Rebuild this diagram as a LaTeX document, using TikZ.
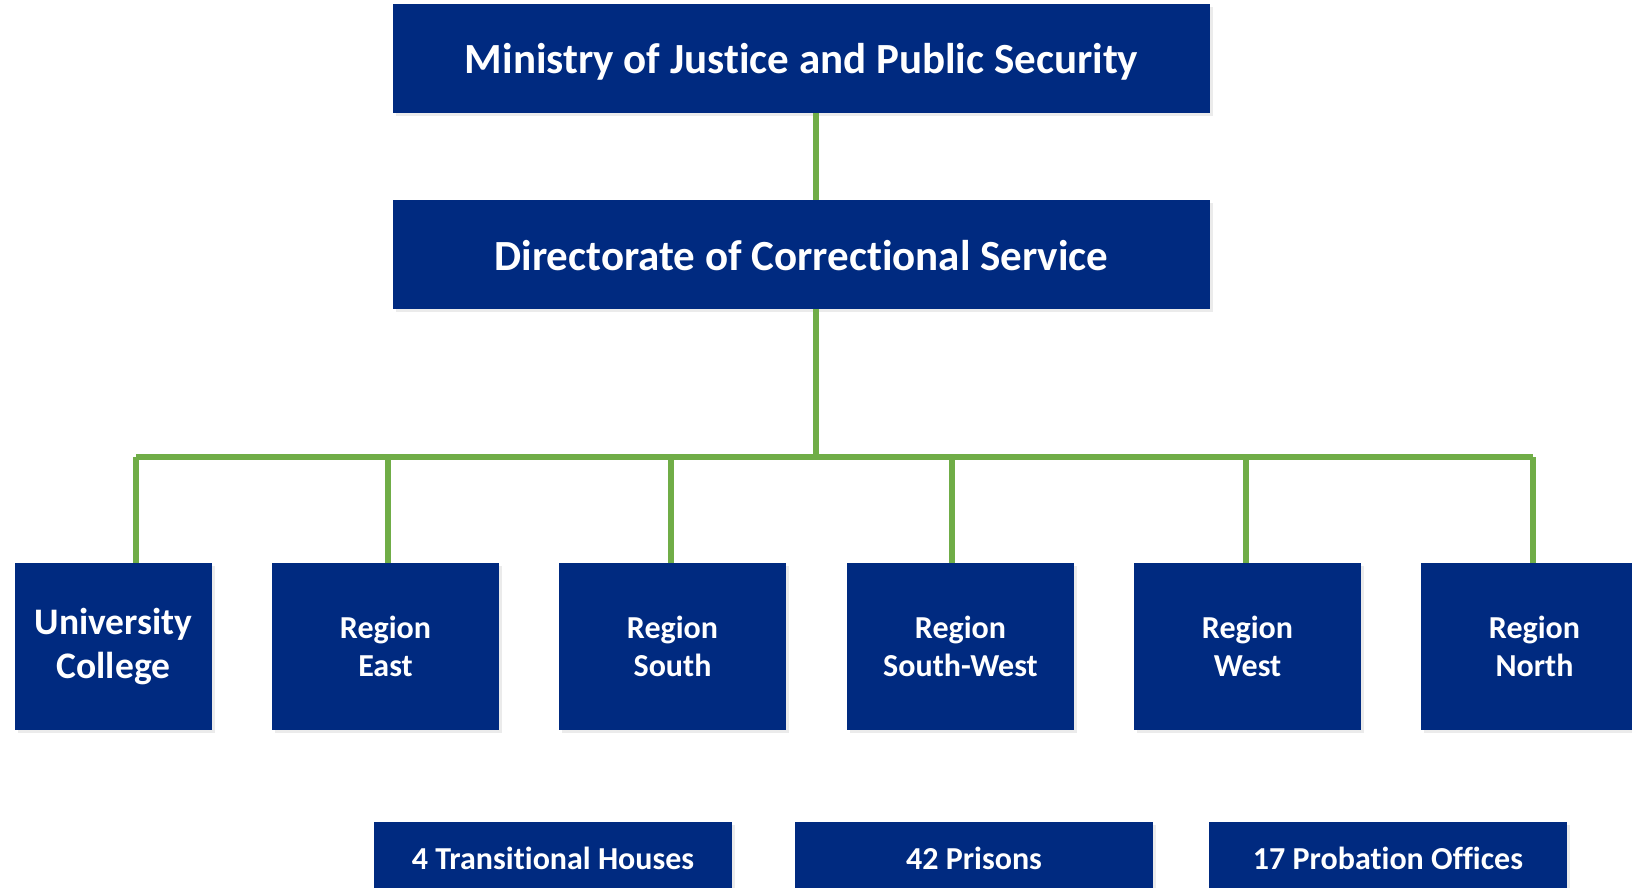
\documentclass[tikz,border=0pt]{standalone}
\usepackage{fontspec}
\setmainfont{Carlito}[Ligatures=NoCommon]
\usetikzlibrary{shadows}
\definecolor{navy}{RGB}{0,42,128}
\definecolor{grn}{RGB}{112,173,71}
\tikzset{
  box/.style={fill=navy, draw=none, text=white, align=center, inner sep=0pt,
    font=\bfseries, drop shadow={shadow xshift=3pt, shadow yshift=-3pt, opacity=0.08, fill=black}},
  conn/.style={draw=grn, line width=6pt},
  bigtxt/.style={font=\fontsize{43}{50}\selectfont\bfseries},
  regtxt/.style={font=\fontsize{32}{37.5}\selectfont\bfseries},
  uctxt/.style={font=\fontsize{37.5}{44}\selectfont\bfseries},
  bottxt/.style={font=\fontsize{32}{38}\selectfont\bfseries}
}
\begin{document}
\begin{tikzpicture}[x=1pt,y=-1pt]
\useasboundingbox (0,0) rectangle (1632,887);
\clip (0,0) rectangle (1632,887);
\node[box,bigtxt,minimum width=817pt,minimum height=109pt] (min) at (801.5,58.5) {\raisebox{-3pt}[\height][\depth]{Ministry of Justice and Public Security}};
\node[box,bigtxt,minimum width=817pt,minimum height=109pt] (dir) at (801.5,254.5) {\raisebox{-1pt}[\height][\depth]{Directorate of Correctional Service}};
\node[box,uctxt,minimum width=197pt,minimum height=167pt] (uc) at (113.5,646.5) {University\\College};
\node[box,regtxt,minimum width=227pt,minimum height=167pt] (re) at (385.5,646.5) {Region\\East};
\node[box,regtxt,minimum width=227pt,minimum height=167pt] (rs) at (672.5,646.5) {Region\\South};
\node[box,regtxt,minimum width=227pt,minimum height=167pt] (rsw) at (960.5,646.5) {Region\\South-West};
\node[box,regtxt,minimum width=227pt,minimum height=167pt] (rw) at (1247.5,646.5) {Region\\West};
\node[box,regtxt,minimum width=227pt,minimum height=167pt] (rn) at (1534.5,646.5) {Region\\North};
\node[box,bottxt,minimum width=358pt,minimum height=72pt] (th) at (553,858) {4 Transitional Houses};
\node[box,bottxt,minimum width=358pt,minimum height=72pt] (pr) at (974,858) {42 Prisons};
\node[box,bottxt,minimum width=358pt,minimum height=72pt] (po) at (1388,858) {17 Probation Offices};
\coordinate (j) at (816,457);
\coordinate (bl) at (136,457);
\coordinate (br) at (1533,457);
\coordinate (d2) at (388,460);
\coordinate (d3) at (671,460);
\coordinate (d4) at (952,460);
\coordinate (d5) at (1246,460);
\draw[conn] (min.south -| j) -- (dir.north -| j);
\draw[conn] (dir.south -| j) -- (j);
\draw[conn] (bl) -- (br);
\draw[conn] (bl) -- (bl |- uc.north);
\draw[conn] (d2) -- (d2 |- re.north);
\draw[conn] (d3) -- (d3 |- rs.north);
\draw[conn] (d4) -- (d4 |- rsw.north);
\draw[conn] (d5) -- (d5 |- rw.north);
\draw[conn] (br) -- (br |- rn.north);
\end{tikzpicture}
\end{document}
